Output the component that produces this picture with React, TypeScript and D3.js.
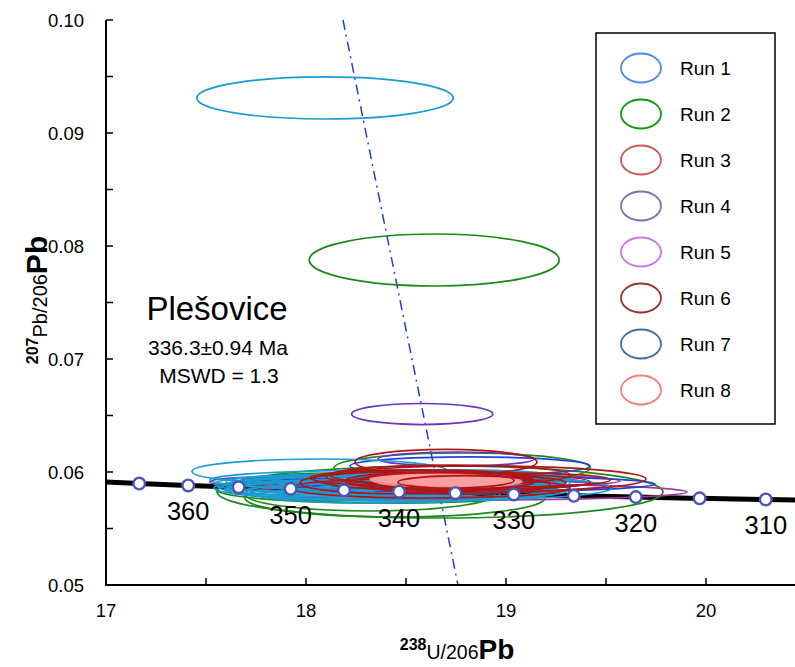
import React from "react";
import * as d3 from "d3";

const W = 795;
const H = 667;

// axis ticks
const xTicks = [17, 18, 19, 20];
const xMinor = [17.5, 18.5, 19.5];
const yTicks = [0.05, 0.06, 0.07, 0.08, 0.09, 0.1];
const yMinor = [0.055, 0.065, 0.075, 0.085, 0.095];

// concordia
const concAges = [365, 360, 355, 350, 345, 340, 335, 330, 325, 320, 315, 310];
const concX = [17.166, 17.411, 17.663, 17.923, 18.19, 18.465, 18.747, 19.039, 19.339, 19.649, 19.968, 20.299];
const concY = [0.05898, 0.05881, 0.05865, 0.05851, 0.05838, 0.05826, 0.05813, 0.05801, 0.05789, 0.05778, 0.05767, 0.05757];
const concLabelAges = [360, 350, 340, 330, 320, 310];
const lineStart = [17.0, 0.05912];
const lineEnd = [20.46, 0.05752];

// discordia reference (dash-dot)
const refX = [18.185, 18.76];
const refY = [0.1, 0.05];

// ellipses: [cx, cy, rx, ry]
const greenEllipses = [
  [18.641, 0.07876, 0.625, 0.0023],
  [18.78, 0.06035, 0.64, 0.00133],
  [18.67, 0.05823, 1.115, 0.0023],
  [18.32, 0.05805, 0.625, 0.0015],
  [18.445, 0.0577, 0.75, 0.00168],
  [18.12, 0.05867, 0.475, 0.00124],
  [18.4, 0.05845, 0.85, 0.0012],
];
const magentaEllipses = [
  [18.82, 0.05823, 1.085, 0.00071],
  [18.62, 0.0592, 0.95, 0.00062],
  [18.55, 0.05865, 0.7, 0.00055],
];
const purpleEllipses = [
  [18.581, 0.06513, 0.353, 0.00093],
  [18.75, 0.06115, 0.39, 0.00062],
  [18.62, 0.05903, 0.8, 0.00062],
  [17.82, 0.05912, 0.3, 0.00044],
  [18.9, 0.0588, 0.6, 0.0005],
];
const blueEllipses = [
  [18.82, 0.06053, 0.6, 0.0008],
  [18.72, 0.05894, 1.025, 0.00071],
  [18.57, 0.05885, 0.65, 0.00062],
  [18.45, 0.0592, 0.55, 0.0006],
];
const cyanEllipses = [
  [18.095, 0.0931, 0.641, 0.00186],
  [18.07, 0.06004, 0.64, 0.00111],
  [18.535, 0.05858, 0.995, 0.00115],
  [18.42, 0.05929, 0.9, 0.00088],
  [18.37, 0.05885, 0.75, 0.00097],
  [18.27, 0.0584, 0.675, 0.0008],
  [18.57, 0.05903, 0.75, 0.00106],
  [18.22, 0.05885, 0.625, 0.00071],
  [18.67, 0.05867, 0.65, 0.00088],
  [18.47, 0.05823, 0.8, 0.0008],
  [18.02, 0.05894, 0.475, 0.0008],
  [17.97, 0.0586, 0.4, 0.00062],
  [18.82, 0.0584, 0.5, 0.00071],
  [18.72, 0.05947, 0.6, 0.00071],
  [18.37, 0.05796, 0.6, 0.00071],
  [18.3, 0.05912, 0.7, 0.0007],
  [18.15, 0.05855, 0.55, 0.00075],
  [18.6, 0.05835, 0.6, 0.0007],
];
const redEllipses = [
  [18.7, 0.06088, 0.455, 0.00112],
  [18.87, 0.05938, 0.83, 0.00115],
  [18.72, 0.05973, 0.6, 0.00088],
  [18.67, 0.0592, 0.475, 0.0008],
  [18.57, 0.05947, 0.55, 0.00071],
  [18.77, 0.05885, 0.45, 0.0008],
  [18.47, 0.05903, 0.5, 0.00097],
  [18.82, 0.05912, 0.6, 0.00071],
  [18.62, 0.05858, 0.7, 0.00088],
  [19.02, 0.0593, 0.5, 0.00062],
  [18.55, 0.05955, 0.45, 0.0006],
  [18.9, 0.05905, 0.4, 0.0006],
];
const salmonEllipses = [
  [18.7, 0.05925, 0.36, 0.00062],
  [18.62, 0.05935, 0.3, 0.00055],
  [18.78, 0.05915, 0.3, 0.0005],
];
const redOverEllipses = [
  [18.66, 0.05925, 0.38, 0.0007],
  [18.8, 0.0591, 0.34, 0.00058],
];

const ellipseGroups = [
  { data: greenEllipses, stroke: "#1a8a1a", fill: "none" },
  { data: magentaEllipses, stroke: "#9a3a9a", fill: "none" },
  { data: purpleEllipses, stroke: "#6a35c0", fill: "none" },
  { data: blueEllipses, stroke: "#2040e0", fill: "none" },
  { data: cyanEllipses, stroke: "#1b9bd0", fill: "none" },
  { data: redEllipses, stroke: "#b01515", fill: "none" },
  { data: salmonEllipses, stroke: "#f08a8a", fill: "#f8a0a0" },
  { data: redOverEllipses, stroke: "#b01515", fill: "none" },
];

// legend
const legendLabels = ["Run 1", "Run 2", "Run 3", "Run 4", "Run 5", "Run 6", "Run 7", "Run 8"];
const legendColors = ["#4d88f0", "#119911", "#cc5a5a", "#8a6aaa", "#cc77ee", "#993333", "#3f6f9f", "#ff7b7b"];

const FONT = "'Liberation Sans', Arial, Helvetica, sans-serif";

export default function App() {
  const left = 106;
  const right = W;
  const top = 20;
  const bottom = 585;
  const x = d3.scaleLinear().domain([17, 20.445]).range([left, right]);
  const y = d3.scaleLinear().domain([0.05, 0.1]).range([bottom, top]);

  const linePts: [number, number][] = [
    [lineStart[0], lineStart[1]],
    ...concX.map((v, i) => [v, concY[i]] as [number, number]),
    [lineEnd[0], lineEnd[1]],
  ];
  const concLine = d3
    .line<[number, number]>()
    .x((d) => x(d[0]))
    .y((d) => y(d[1]))
    .curve(d3.curveMonotoneX)(linePts);

  const legendX = 596;
  const legendY = 33;
  const legendW = 179;
  const legendH = 391;

  return (
    <svg
      width={W}
      height={H}
      style={{ position: "absolute", left: 0, top: 0, background: "#fff" }}
      fontFamily={FONT}
    >
      <defs>
        <clipPath id="plotClip">
          <rect x={left} y={top} width={right - left} height={bottom - top} />
        </clipPath>
      </defs>

      {/* dash-dot reference line */}
      <line
        x1={x(refX[0])}
        y1={y(refY[0])}
        x2={x(refX[1])}
        y2={y(refY[1])}
        stroke="#1f3fdc"
        strokeWidth={1.5}
        strokeDasharray="10,5,2,5"
      />

      {/* concordia line */}
      <g clipPath="url(#plotClip)">
        <path d={concLine || ""} fill="none" stroke="#000" strokeWidth={5} />
      </g>

      {/* ellipses */}
      <g clipPath="url(#plotClip)">
        {ellipseGroups.map((g, gi) =>
          g.data.map((e, i) => (
            <ellipse
              key={`${gi}-${i}`}
              cx={x(e[0])}
              cy={y(e[1])}
              rx={x(e[0] + e[2]) - x(e[0])}
              ry={y(e[1]) - y(e[1] + e[3])}
              fill={g.fill}
              fillOpacity={g.fill === "none" ? 0 : 1}
              stroke={g.stroke}
              strokeWidth={1.7}
            />
          ))
        )}
      </g>

      {/* concordia points */}
      {concX.map((v, i) => (
        <circle
          key={`cp-${i}`}
          cx={x(v)}
          cy={y(concY[i])}
          r={5.8}
          fill="#fff"
          stroke="#4a55b8"
          strokeWidth={2.4}
        />
      ))}

      {/* concordia age labels */}
      {concLabelAges.map((a) => {
        const idx = concAges.indexOf(a);
        return (
          <text
            key={`cl-${a}`}
            x={x(concX[idx])}
            y={y(concY[idx]) + 35}
            fontSize={25.5}
            textAnchor="middle"
            fill="#000"
          >
            {a}
          </text>
        );
      })}

      {/* axes */}
      <line x1={left} y1={top} x2={left} y2={bottom} stroke="#000" strokeWidth={2} />
      <line x1={left - 1} y1={bottom} x2={right} y2={bottom} stroke="#000" strokeWidth={2} />
      {[...yTicks, ...yMinor].map((t) => (
        <line key={`yt-${t}`} x1={left} x2={left + 7} y1={y(t)} y2={y(t)} stroke="#000" strokeWidth={1.5} />
      ))}
      {[...xTicks, ...xMinor].map((t) => (
        <line key={`xt-${t}`} x1={x(t)} x2={x(t)} y1={bottom} y2={bottom - 7} stroke="#000" strokeWidth={1.5} />
      ))}
      {yTicks.map((t) => (
        <text key={`yl-${t}`} x={84} y={y(t) + 6.5} fontSize={18.5} textAnchor="end">
          {d3.format(".2f")(t)}
        </text>
      ))}
      {xTicks.map((t) => (
        <text key={`xl-${t}`} x={x(t)} y={617} fontSize={18.5} textAnchor="middle">
          {t}
        </text>
      ))}

      {/* axis titles */}
      <text x={457} y={659} textAnchor="middle">
        <tspan fontSize={16} fontWeight="bold" dy={-9}>238</tspan>
        <tspan fontSize={19.5} dy={9}>U/206</tspan>
        <tspan fontSize={28} fontWeight="bold">Pb</tspan>
      </text>
      <text transform="translate(47,300) rotate(-90)" textAnchor="middle">
        <tspan fontSize={16} fontWeight="bold" dy={-9}>207</tspan>
        <tspan fontSize={20} dy={9}>Pb/206</tspan>
        <tspan fontSize={30} fontWeight="bold">Pb</tspan>
      </text>

      {/* annotation */}
      <text x={217} y={320} fontSize={33} textAnchor="middle">
        Plešovice
      </text>
      <text x={218} y={355} fontSize={21} textAnchor="middle">
        336.3±0.94 Ma
      </text>
      <text x={219} y={383} fontSize={21} textAnchor="middle">
        MSWD = 1.3
      </text>

      {/* legend */}
      <rect x={legendX} y={legendY} width={legendW} height={legendH} fill="#fff" stroke="#000" strokeWidth={1.5} />
      {legendLabels.map((lab, i) => {
        const cy = 68 + i * 46;
        return (
          <g key={lab}>
            <ellipse cx={641} cy={cy} rx={20} ry={14.5} fill="none" stroke={legendColors[i]} strokeWidth={1.8} />
            <text x={680} y={cy + 7} fontSize={19}>
              {lab}
            </text>
          </g>
        );
      })}
    </svg>
  );
}
